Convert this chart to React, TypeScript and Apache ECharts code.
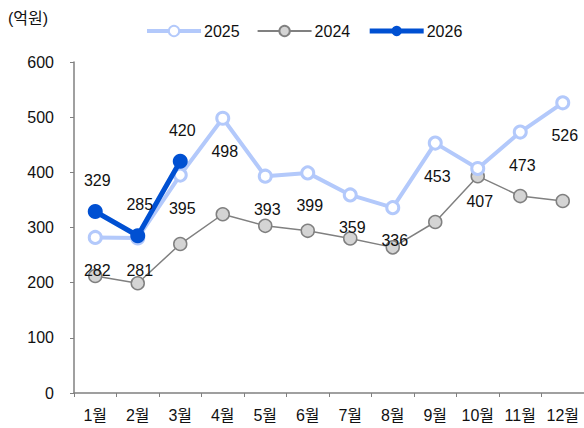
import React, { useEffect, useRef } from "react";
import * as echarts from "echarts";

const months = ["1월", "2월", "3월", "4월", "5월", "6월", "7월", "8월", "9월", "10월", "11월", "12월"];
const v2025 = [282, 281, 395, 498, 393, 399, 359, 336, 453, 407, 473, 526];
const v2024 = [212, 199, 270, 324, 303, 294, 280, 264, 310, 393, 357, 348];
const v2026 = [329, 285, 420];

const FONT = "'Liberation Sans', Arial, 'Noto Sans CJK KR', sans-serif";
const FS = 16;

export default function App() {
  const ref = useRef<HTMLDivElement>(null);
  useEffect(() => {
    if (!ref.current) return;
    const chart = echarts.init(ref.current, undefined, { renderer: "svg" });
    chart.setOption({
      animation: false,
      textStyle: { fontFamily: FONT },
      graphic: [
        { type: "text", left: 8, top: 10, style: { text: "(억원)", fontSize: 16, fill: "#111", fontFamily: FONT } },
      ],
      legend: {
        left: 145,
        top: 23,
        padding: 0,
        itemWidth: 54,
        itemHeight: 13,
        itemGap: 17,
        textStyle: { fontSize: FS, color: "#111", fontFamily: FONT, padding: [0, 0, 0, -2] },
        data: [
          { name: "2025", lineStyle: { width: 4 } },
          { name: "2024", lineStyle: { width: 2 } },
          { name: "2026", lineStyle: { width: 5 } },
        ],
      },
      grid: { left: 74, right: 0, top: 62, bottom: 35 },
      xAxis: {
        type: "category",
        data: months,
        boundaryGap: true,
        axisLine: { lineStyle: { color: "#808080", width: 1.5 } },
        axisTick: { show: true, length: 4, lineStyle: { color: "#808080" } },
        axisLabel: { color: "#111", fontSize: FS, margin: 14, fontFamily: FONT },
      },
      yAxis: {
        type: "value",
        min: 0,
        max: 600,
        interval: 100,
        splitLine: { show: false },
        axisLine: { show: true, lineStyle: { color: "#808080", width: 1.5 } },
        axisTick: { show: true, length: 4, lineStyle: { color: "#808080" } },
        axisLabel: { color: "#111", fontSize: FS, margin: 20, fontFamily: FONT },
      },
      series: [
        {
          name: "2025",
          type: "line",
          data: v2025,
          z: 3,
          symbol: "circle",
          symbolSize: 12,
          lineStyle: { color: "#b3c9fb", width: 4 },
          itemStyle: { color: "#ffffff", borderColor: "#b3c9fb", borderWidth: 3 },
          label: {
            show: true,
            position: "inside",
            offset: [2, 33],
            fontSize: FS,
            color: "#111",
            fontFamily: FONT,
          },
        },
        {
          name: "2024",
          type: "line",
          data: v2024,
          z: 2,
          symbol: "circle",
          symbolSize: 13,
          lineStyle: { color: "#808080", width: 1.5 },
          itemStyle: { color: "#d4d4d4", borderColor: "#808080", borderWidth: 1.5 },
        },
        {
          name: "2026",
          type: "line",
          data: v2026,
          z: 4,
          symbol: "circle",
          symbolSize: 15,
          lineStyle: { color: "#0050d2", width: 5 },
          itemStyle: { color: "#0050d2" },
          label: {
            show: true,
            position: "inside",
            offset: [2, -31],
            fontSize: FS,
            color: "#111",
            fontFamily: FONT,
          },
        },
      ],
    });
    return () => chart.dispose();
  }, []);
  return <div ref={ref} style={{ width: 584, height: 428, position: "absolute", left: 0, top: 0 }} />;
}
